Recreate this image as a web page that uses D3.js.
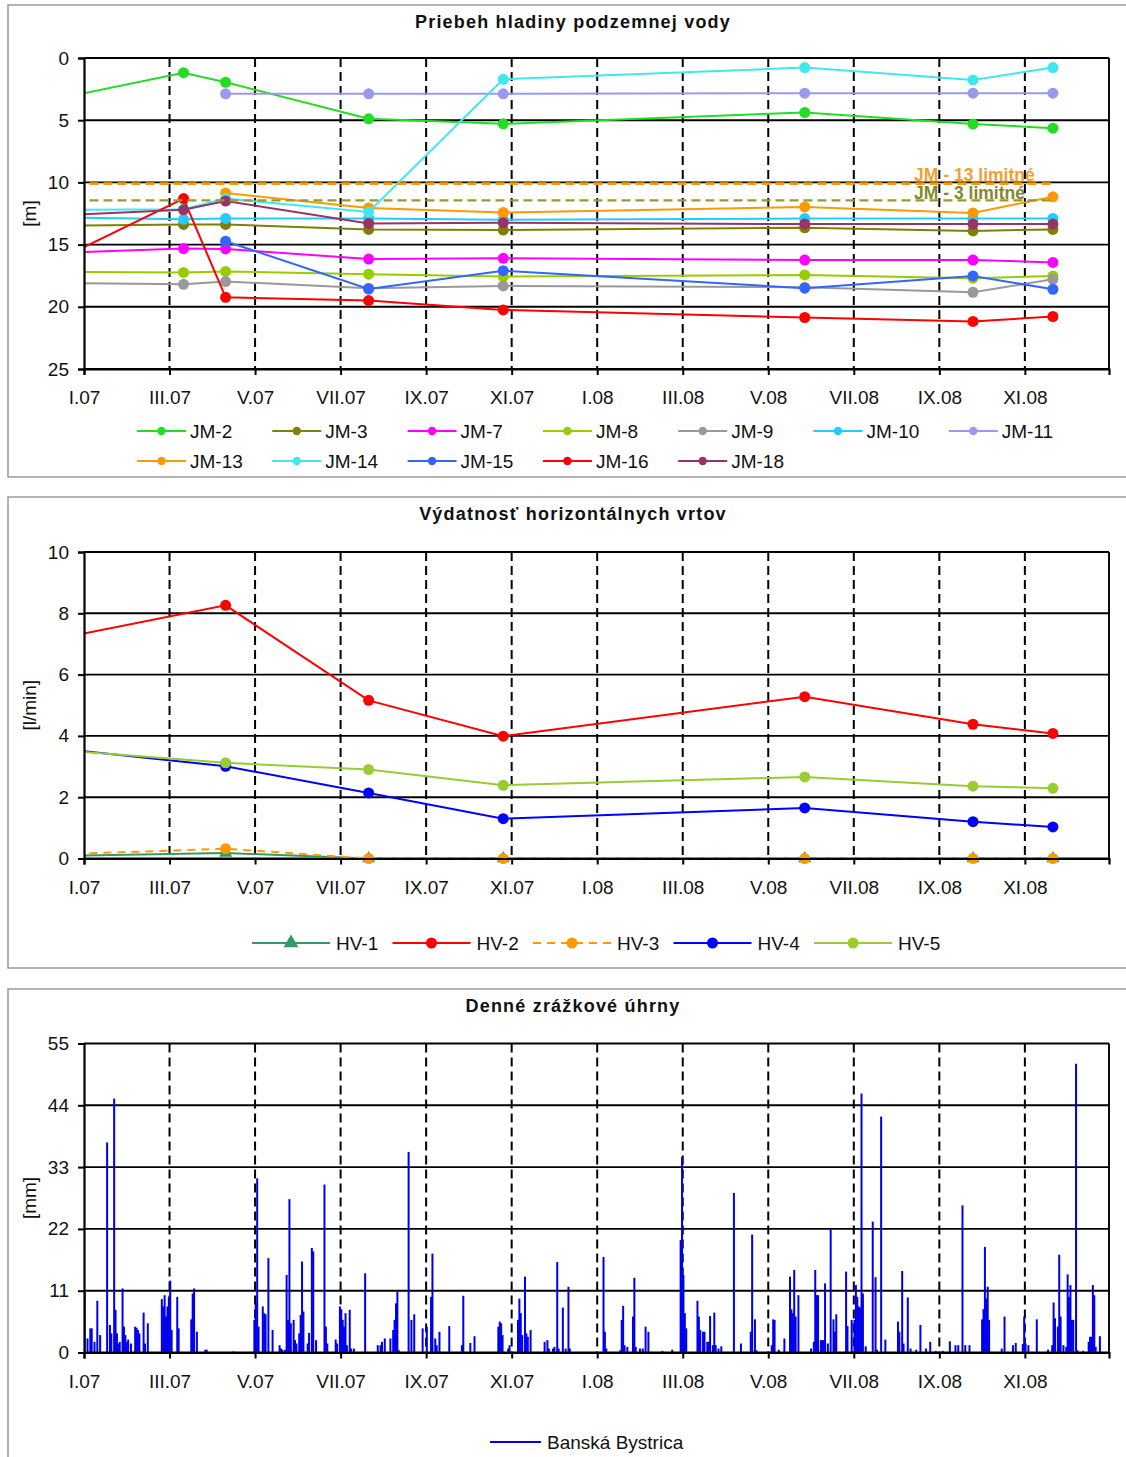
<!DOCTYPE html>
<html><head><meta charset="utf-8">
<script src="https://cdn.jsdelivr.net/npm/d3@7"></script>
<style>
body{margin:0;background:#fff;}
svg{display:block;font-family:"Liberation Sans",Arial,sans-serif;}
</style></head><body>
<svg id="c" width="1126" height="1457"></svg>
<script>
// ---------- DATA ----------
const monthRoman = ["I","II","III","IV","V","VI","VII","VIII","IX","X","XI","XII"];
const yTicksLevel = [0,5,10,15,20,25];
const yTicksYield = [0,2,4,6,8,10];
const yTicksRain = [0,11,22,33,44,55];

// groundwater measurement dates (first one is before the axis start)
const jmDates = ["2006-10-27","2007-03-13","2007-04-12","2007-07-23","2007-10-27","2008-05-29","2008-09-26","2008-11-22"];
const jmNames = ["JM-2","JM-3","JM-7","JM-8","JM-9","JM-10","JM-11","JM-13","JM-14","JM-15","JM-16","JM-18"];
const jmColors = ["#22dd22","#808000","#ff00ff","#99cc00","#999999","#22ccff","#9999ee","#ff9900","#40e8ee","#3366ff","#ff0000","#993366"];
const jm2  = [4.36, 1.18, 1.95, 4.89, 5.29, 4.38, 5.31, 5.64];
const jm3  = [13.53, 13.38, 13.38, 13.78, 13.83, 13.65, 13.9, 13.78];
const jm7  = [15.86, 15.32, 15.35, 16.16, 16.1, 16.24, 16.24, 16.43];
const jm8  = [17.16, 17.24, 17.16, 17.38, 17.57, 17.44, 17.7, 17.52];
const jm9  = [18.02, 18.19, 17.97, 18.5, 18.32, 18.43, 18.83, 17.79];
const jm10 = [12.72, 12.97, 12.9, 12.9, 13.0, 12.9, 12.9, 12.9];
const jm11 = [null, null, 2.88, 2.88, 2.88, 2.83, 2.83, 2.83];
const jm13 = [null, null, 10.85, 12.05, 12.42, 11.97, 12.45, 11.16];
const jm14 = [12.24, 12.16, 11.3, 12.38, 1.71, 0.77, 1.76, 0.77];
const jm15 = [null, null, 14.73, 18.57, 17.1, 18.5, 17.52, 18.59];
const jm16 = [18.83, 11.3, 19.24, 19.5, 20.25, 20.86, 21.18, 20.78];
const jm18 = [12.91, 12.2, 11.5, 13.3, 13.25, 13.35, 13.35, 13.35];
const jmSeries = [jm2, jm3, jm7, jm8, jm9, jm10, jm11, jm13, jm14, jm15, jm16, jm18];

const limitDates = ["2006-10-27","2008-11-22"];
const limitJM13 = 10.1;
const limitJM3 = 11.45;
const limitLabels = ["JM - 13 limitné","JM - 3 limitné"];

// horizontal well yields
const hvDates = ["2006-10-27","2007-04-12","2007-07-23","2007-10-27","2008-05-29","2008-09-26","2008-11-22"];
const hvNames = ["HV-1","HV-2","HV-3","HV-4","HV-5"];
const hvColors = ["#339966","#ff0000","#ff9900","#0000ff","#99cc33"];
const hv1 = [0.05, 0.18, 0, 0, 0, 0, 0];
const hv2 = [6.74, 8.26, 5.16, 3.99, 5.28, 4.38, 4.08];
const hv3 = [0.06, 0.32, 0, 0, 0, 0, 0];
const hv4 = [3.82, 3.01, 2.14, 1.3, 1.65, 1.2, 1.03];
const hv5 = [3.70, 3.12, 2.9, 2.39, 2.66, 2.36, 2.29];
const hvSeries = [hv1, hv2, hv3, hv4, hv5];

// daily precipitation, Banská Bystrica (day = days since 1.1.2007, only rainy days)
const rainDay = [0,2,4,5,7,9,11,16,18,19,21,22,23,24,25,27,28,29,30,31,33,36,37,38,39,42,43,45,55,56,57,58,59,60,61,62,66,67,76,77,78,80,86,87,106,
121,122,123,124,127,128,129,131,134,139,140,141,143,144,145,146,147,149,150,151,153,154,155,156,159,160,162,163,165,171,172,173,179,180,182,183,184,185,186,187,189,190,192,200,209,211,212,214,218,220,221,222,223,224,231,233,235,
241,244,247,248,250,251,253,260,269,270,275,278,295,296,297,298,302,303,309,310,311,312,314,315,316,318,328,330,331,334,335,337,338,341,343,345,346,370,371,372,382,383,384,385,387,391,392,393,396,398,400,402,412,419,425,426,427,428,429,437,438,439,441,442,444,445,446,448,449,450,452,454,463,468,475,476,478,479,
490,491,492,495,499,503,504,505,506,507,509,518,520,521,522,523,525,526,527,528,530,532,534,535,536,543,544,547,549,550,551,552,553,554,555,557,562,564,565,568,571,580,581,583,584,587,589,593,596,600,603,607,612,617,621,623,626,628,631,640,641,642,643,644,645,654,656,662,664,669,670,671,673,679,687,690,691,692,694,695,696,698,700,701,702,703,704,705,707,708,712,716,717,718,719,720,721,724];
const rainMm = [10.8,2.5,4.3,4.3,1.9,9.2,3.1,37.4,4.9,3.4,45.2,7.6,3.4,1.6,1.9,11.4,4.6,3.1,1.9,2.3,1.6,4.6,4.4,4,3.4,7.1,1.6,5.2,9.5,8.2,10.2,6.4,8.2,9.9,12.8,4,9.9,4.3,5.9,10.5,11.4,3.7,0.5,0.5,0.2,
5.8,8.75,31,4.6,8.2,7,6.8,16.8,4,1.3,0.7,0.5,0.5,13.8,5.8,27.3,5.2,5.8,2.2,1.6,3.4,6.7,16.2,7.3,1.6,3.5,18.6,18,2.2,29.9,4.6,1.6,2.3,1.6,8.2,7.7,5.8,4.6,7,1.3,7.6,0.7,0.7,14.1,1.3,1.3,1.9,2.5,2.5,4,5.8,8.75,10.8,0.4,35.7,5.8,6.8,
4.3,4.6,9.9,17.6,2.5,1.3,3.7,4.7,1.3,10.1,1.7,2.9,4.6,5.5,5.2,3.1,0.7,1.3,5.8,9.6,7,3.1,13.5,3.4,2.8,4,1.9,2.2,0.7,0.7,1,16.1,0.7,8,0.7,11.7,0.7,17,3.7,0.7,0.4,5.8,8.3,1.3,1,6.4,13.3,1,0.7,0.7,4.6,3.7,0.3,0.5,20,34.8,13.8,7,4.3,9.2,6.4,4,3.7,3.7,1.9,1.9,6.5,1.3,7.1,1.3,0.7,1.1,28.4,1.6,3.7,21,5.9,0.4,
1.3,5.9,5.8,0.5,2.5,13.5,7.7,7,14.7,6.4,10.2,0.7,1.9,14.7,10.2,10.2,2.2,2.2,2.2,12.3,1.6,22,5.9,3.7,6.8,14.4,4.7,5.8,5.8,12,9.9,8.2,8,46.1,10.5,1.1,23.3,13.4,0.5,42,2.3,5.5,3.7,14.5,1.6,9.8,0.7,0.5,4.9,0.7,1.9,0.3,0.3,2,1.3,1.3,26.2,1.3,1.3,5.9,7.7,18.8,9.6,11.7,5.8,0.7,6.4,1.3,1.7,1.5,6.4,1.6,1.3,5.9,0.5,1.3,8.9,6.1,4.6,17.4,6.4,1.3,1,13.9,9.9,12,5.8,5.8,51.4,0.4,0.3,1.9,2.8,2.8,12,10.2,1,2.9];
const rainName = "Banská Bystrica";

// ---------- DRAWING ----------
const svg = d3.select("#c");
const t0 = Date.UTC(2007,0,1);
const DAY = 864e5;
const parse = s => new Date(s + "T00:00:00Z");
const X0 = 84, X1 = 1109;
const x = d3.scaleUtc().domain([new Date(t0), new Date(Date.UTC(2009,0,1))]).range([X0, X1]);
const xTicks = d3.range(0, 731, 61).map(d => new Date(t0 + d*DAY));
const fmtX = d => monthRoman[d.getUTCMonth()] + "." + String(d.getUTCFullYear()).slice(2);
const FS = 19;

function panel(o) {
  const g = svg.append("g");
  g.append("rect").attr("x",8).attr("y",o.py).attr("width",1140).attr("height",o.ph)
    .attr("fill","#fff").attr("stroke","#8c8c8c").attr("stroke-width",1.3);
  g.append("text").attr("x",573).attr("y",o.ty).attr("text-anchor","middle")
    .attr("dominant-baseline","central").attr("font-weight","bold").attr("font-size",18)
    .attr("letter-spacing",1.2).attr("fill","#111").text(o.title);
  const y = d3.scaleLinear().domain(o.dom).range(o.rng);
  const top = Math.min(o.rng[0], o.rng[1]), bot = Math.max(o.rng[0], o.rng[1]);
  const cid = "clip" + o.id;
  svg.append("clipPath").attr("id", cid).append("rect")
    .attr("x", X0).attr("y", top - 10).attr("width", X1 - X0).attr("height", bot - top + 20);
  const under = g.append("g");
  // gridlines
  const grid = g.append("g");
  grid.selectAll("line.h").data(o.ticks).join("line")
    .attr("x1",X0).attr("x2",X1).attr("y1",d=>y(d)).attr("y2",d=>y(d))
    .attr("stroke","#000").attr("stroke-width",1.9);
  grid.selectAll("line.v").data(xTicks.slice(1)).join("line")
    .attr("x1",d=>x(d)).attr("x2",d=>x(d)).attr("y1",top).attr("y2",bot)
    .attr("stroke","#000").attr("stroke-width",2).attr("stroke-dasharray","9,5");
  grid.append("line").attr("x1",X1).attr("x2",X1).attr("y1",top).attr("y2",bot)
    .attr("stroke","#000").attr("stroke-width",1.9);
  const plot = g.append("g").attr("clip-path", `url(#${cid})`);
  // axes
  const ax = g.append("g").attr("transform",`translate(0,${bot})`)
    .call(d3.axisBottom(x).tickValues(xTicks).tickFormat(fmtX).tickSize(6).tickPadding(16));
  const ay = g.append("g").attr("transform",`translate(${X0},0)`)
    .call(d3.axisLeft(y).tickValues(o.ticks).tickSize(6).tickPadding(9));
  [ax, ay].forEach(a => {
    a.select(".domain").attr("stroke","#000").attr("stroke-width",2.2);
    a.selectAll(".tick line").attr("stroke","#000").attr("stroke-width",2);
    a.selectAll(".tick text").attr("font-size",FS).attr("fill","#111")
      .attr("font-family",'"Liberation Sans", Arial, sans-serif');
  });
  g.append("text").attr("transform",`translate(29,${(top+bot)/2}) rotate(-90)`)
    .attr("text-anchor","middle").attr("dominant-baseline","central")
    .attr("font-size",FS).attr("fill","#111").text(o.ylabel);
  return {g, y, plot, under};
}

// ===== Panel 1: groundwater levels =====
const p1 = panel({id:1, py:5, ph:472, ty:22, title:"Priebeh hladiny podzemnej vody",
  dom:[0,25], rng:[58,369], ticks:yTicksLevel, ylabel:"[m]"});
// limit labels (under gridlines)
p1.under.append("text").attr("x", x(parse("2008-08-15"))).attr("y", p1.y(9.4))
  .attr("dominant-baseline","central").attr("font-size",17.5).attr("font-weight",600)
  .attr("fill","#f0a030").text(limitLabels[0]);
p1.under.append("text").attr("x", x(parse("2008-08-15"))).attr("y", p1.y(10.85))
  .attr("dominant-baseline","central").attr("font-size",17.5).attr("font-weight",600)
  .attr("fill","#86862a").text(limitLabels[1]);

jmSeries.forEach((vals, i) => {
  const pts = vals.map((v, k) => ({d: parse(jmDates[k]), v})).filter(p => p.v !== null);
  const line = d3.line().x(p => x(p.d)).y(p => p1.y(p.v));
  p1.plot.append("path").attr("d", line(pts)).attr("fill","none")
    .attr("stroke", jmColors[i]).attr("stroke-width",2);
  p1.plot.selectAll(null).data(pts.filter(p => p.d >= new Date(t0))).join("circle")
    .attr("cx", p => x(p.d)).attr("cy", p => p1.y(p.v)).attr("r",5.5).attr("fill", jmColors[i]);
});
[[limitJM13,"#ff9900",2.6],[limitJM3,"#999933",2.2]].forEach(([v,c,w]) => {
  const pts = limitDates.map(s => ({d: parse(s), v}));
  p1.plot.append("path").attr("d", d3.line().x(p=>x(p.d)).y(p=>p1.y(p.v))(pts))
    .attr("fill","none").attr("stroke",c).attr("stroke-width",w).attr("stroke-dasharray","9,5");
});
// legend 1
jmNames.forEach((n, i) => {
  const row = i < 7 ? 0 : 1, col = i < 7 ? i : i - 7;
  const sx = 137 + col * 135.3, cy = row ? 461 : 431;
  const lg = svg.append("g");
  lg.append("line").attr("x1",sx).attr("x2",sx+49).attr("y1",cy).attr("y2",cy)
    .attr("stroke",jmColors[i]).attr("stroke-width",2);
  lg.append("circle").attr("cx",sx+24.5).attr("cy",cy).attr("r",4.2).attr("fill",jmColors[i]);
  lg.append("text").attr("x",sx+53).attr("y",cy).attr("dominant-baseline","central")
    .attr("font-size",FS).attr("fill","#111").text(n);
});

// ===== Panel 2: yields =====
const p2 = panel({id:2, py:497, ph:471, ty:514, title:"Výdatnosť horizontálnych vrtov",
  dom:[0,10], rng:[858.5,552], ticks:yTicksYield, ylabel:"[l/min]"});
const tri = d3.symbol().type(d3.symbolTriangle).size(75);
hvSeries.forEach((vals, i) => {
  const pts = vals.map((v, k) => ({d: parse(hvDates[k]), v}));
  const line = d3.line().x(p => x(p.d)).y(p => p2.y(p.v));
  p2.plot.append("path").attr("d", line(pts)).attr("fill","none")
    .attr("stroke", hvColors[i]).attr("stroke-width",2)
    .attr("stroke-dasharray", i === 2 ? "8,6" : null);
  const vis = pts.filter(p => p.d >= new Date(t0));
  if (i === 0) {
    p2.plot.selectAll(null).data(vis).join("path").attr("d", tri)
      .attr("transform", p => `translate(${x(p.d)},${p2.y(p.v)})`).attr("fill", hvColors[i]);
  } else {
    p2.plot.selectAll(null).data(vis).join("circle")
      .attr("cx", p => x(p.d)).attr("cy", p => p2.y(p.v)).attr("r",5.5).attr("fill", hvColors[i]);
  }
});
hvNames.forEach((n, i) => {
  const sx = 252 + i * 140.5, cy = 943;
  const lg = svg.append("g");
  lg.append("line").attr("x1",sx).attr("x2",sx+78).attr("y1",cy).attr("y2",cy)
    .attr("stroke",hvColors[i]).attr("stroke-width",2).attr("stroke-dasharray", i === 2 ? "8,6" : null);
  if (i === 0) lg.append("path").attr("d", d3.symbol().type(d3.symbolTriangle).size(95)())
      .attr("transform",`translate(${sx+39},${cy})`).attr("fill",hvColors[i]);
  else lg.append("circle").attr("cx",sx+39).attr("cy",cy).attr("r",5.5).attr("fill",hvColors[i]);
  lg.append("text").attr("x",sx+84).attr("y",cy).attr("dominant-baseline","central")
    .attr("font-size",FS).attr("fill","#111").text(n);
});

// ===== Panel 3: precipitation =====
const p3 = panel({id:3, py:989, ph:500, ty:1006, title:"Denné zrážkové úhrny",
  dom:[0,55], rng:[1352.5,1043.5], ticks:yTicksRain, ylabel:"[mm]"});
const rain = rainDay.map((d, i) => ({d: new Date(t0 + d*DAY + DAY/2), v: rainMm[i]}));
p3.plot.selectAll(null).data(rain).join("rect")
  .attr("x", p => x(p.d) - 1).attr("width", 2)
  .attr("y", p => p3.y(p.v)).attr("height", p => p3.y(0) - p3.y(p.v))
  .attr("fill", "#0000ee");
{
  const lg = svg.append("g");
  lg.append("line").attr("x1",490).attr("x2",541).attr("y1",1442).attr("y2",1442)
    .attr("stroke","#0000ee").attr("stroke-width",2);
  lg.append("text").attr("x",547).attr("y",1442).attr("dominant-baseline","central")
    .attr("font-size",FS).attr("fill","#111").text(rainName);
}
</script>
</body></html>
